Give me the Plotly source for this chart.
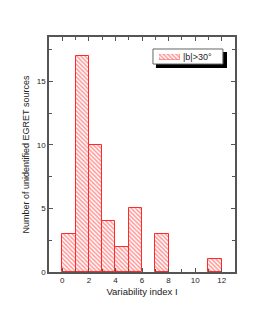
import plotly.graph_objects as go

bin_left = [0, 1, 2, 3, 4, 5, 7, 11]
counts = [3, 17, 10, 4, 2, 5, 3, 1]
series_name = "|b|>30°"
x_tick_vals = [0, 2, 4, 6, 8, 10, 12]
y_tick_vals = [0, 5, 10, 15]

FONT = "Liberation Sans, Arial"
RED = "#ff2a2a"
pattern = dict(shape="\\", fgcolor="#ff3030", bgcolor="white", size=3, solidity=0.5)

fig = go.Figure()
fig.add_trace(go.Bar(
    x=bin_left, y=counts, offset=0, width=1, name=series_name,
    marker=dict(color="white", line=dict(color=RED, width=1), pattern=pattern),
    showlegend=False,
))

# legend swatch on a small hidden overlay axis
fig.add_trace(go.Bar(
    x=[0], y=[1], width=1, xaxis="x2", yaxis="y2", showlegend=False, hoverinfo="skip",
    marker=dict(color="white", line=dict(color=RED, width=0.5), pattern=pattern),
))

axis_common = dict(showline=True, linecolor="#555", linewidth=1.5, mirror="allticks",
                   ticks="inside", ticklen=4, tickcolor="#555", showgrid=False, zeroline=False,
                   tickfont=dict(family=FONT, size=8, color="#222"))

fig.update_layout(
    xaxis=dict(range=[-1, 13], tickvals=x_tick_vals,
               minor=dict(dtick=1, tick0=0, ticks="inside", ticklen=3, tickcolor="#555"),
               title=dict(text="Variability index I", font=dict(family=FONT, size=9.5, color="#222"), standoff=4),
               **axis_common),
    yaxis=dict(range=[0, 18.5], tickvals=y_tick_vals,
               minor=dict(dtick=2.5, tick0=0, ticks="inside", ticklen=3, tickcolor="#555"),
               title=dict(text="Number of unidentified EGRET sources", font=dict(family=FONT, size=9, color="#222"), standoff=6),
               **axis_common),
    xaxis2=dict(domain=[0.591, 0.704], range=[-0.5, 0.5], visible=False, anchor="y2", fixedrange=True),
    yaxis2=dict(domain=[0.902, 0.928], range=[0, 1], visible=False, anchor="x2", fixedrange=True),
)

# legend shadow and box
fig.add_shape(type="rect", xref="paper", yref="paper",
              x0=0.575, x1=0.957, y0=0.868, y1=0.936,
              fillcolor="black", line=dict(width=0), layer="below")
fig.add_shape(type="rect", xref="paper", yref="paper",
              x0=0.559, x1=0.935, y0=0.885, y1=0.949,
              fillcolor="white", line=dict(color="#666", width=1), layer="below")
fig.add_annotation(xref="paper", yref="paper", x=0.712, y=0.913, xanchor="left", yanchor="middle",
                   text=series_name, showarrow=False, font=dict(family=FONT, size=9, color="#222"))

fig.update_layout(
    width=265, height=319,
    margin=dict(l=41, r=38, t=29, b=55),
    paper_bgcolor="white", plot_bgcolor="white",
    bargap=0, showlegend=False,
)

fig.write_html("out.html")
